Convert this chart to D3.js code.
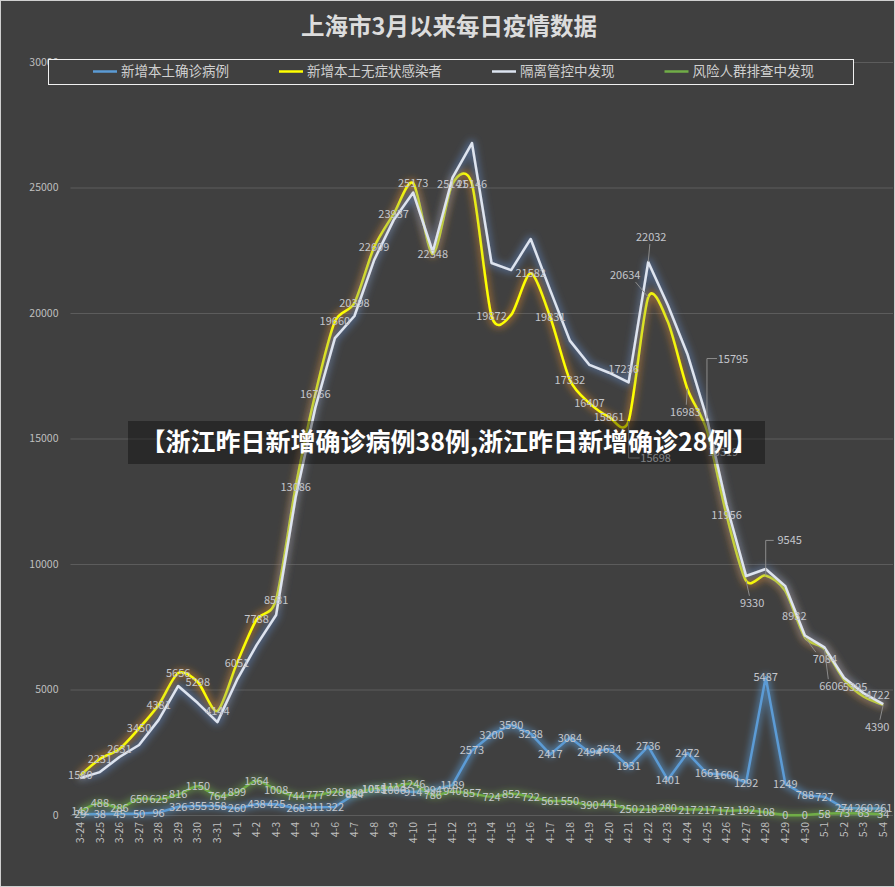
<!DOCTYPE html>
<html>
<head>
<meta charset="utf-8">
<script src="https://cdn.jsdelivr.net/npm/d3@7"></script>
<style>
  html, body { margin: 0; padding: 0; background: #404040; }
  svg { display: block; }
  text { font-family: "Microsoft YaHei", "Noto Sans CJK SC", sans-serif; }
</style>
</head>
<body>
<svg id="chart"></svg>
<script>
// dates on the x axis
var dates = ['3-24','3-25','3-26','3-27','3-28','3-29','3-30','3-31',
  '4-1','4-2','4-3','4-4','4-5','4-6','4-7','4-8','4-9','4-10',
  '4-11','4-12','4-13','4-14','4-15','4-16','4-17','4-18','4-19','4-20',
  '4-21','4-22','4-23','4-24','4-25','4-26','4-27','4-28','4-29','4-30',
  '5-1','5-2','5-3','5-4'];

// 新增本土确诊病例
var confirmed = [29,38,45,50,96,326,355,358,
  260,438,425,268,311,322,824,1015,1006,914,
  994,1189,2573,3200,3590,3238,2417,3084,2494,2634,
  1931,2736,1401,2472,1661,1606,1292,5487,1249,788,
  727,274,260,261];

// 新增本土无症状感染者
var asymptomatic = [1580,2231,2631,3450,4381,5656,5298,4144,
  6051,7788,8581,13086,16766,19660,20398,22609,23937,25173,
  22348,25141,25146,19872,19923,21582,19831,17332,16407,15861,
  15698,20634,19657,16983,15319,11956,9330,9545,8932,7084,
  6606,5395,4722,4390];

// 隔离管控中发现
var quarantine = [1470,1710,2310,2790,3790,5140,4460,3700,
  5380,6770,7970,12670,16220,19000,19880,22100,23700,24800,
  22430,25380,26770,21990,21710,22950,20900,18900,17930,17620,
  17236,22032,20320,18370,15795,12350,9520,9800,9120,7150,
  6680,5470,4850,4420];

// 风险人群排查中发现
var screening = [142,488,286,650,625,816,1150,764,
  899,1364,1008,744,777,928,880,1051,1113,1246,
  786,940,857,724,852,722,561,550,390,441,
  250,218,280,217,217,171,192,108,0,0,
  58,73,63,34];

var yTicks = [0, 5000, 10000, 15000, 20000, 25000, 30000];

var W = 895, H = 887;
var margin = { top: 62, right: 2, bottom: 72, left: 70.5 };

var svg = d3.select('#chart').attr('width', W).attr('height', H);

svg.append('rect').attr('x', 0.5).attr('y', 0.5)
  .attr('width', W - 1).attr('height', H - 1)
  .attr('fill', '#404040').attr('stroke', '#d0d0d0');

var x = d3.scaleBand().domain(dates).range([margin.left, W - margin.right]);
var y = d3.scaleLinear().domain([0, 30000]).range([H - margin.bottom, margin.top]);
var cx = function(d, i) { return x(dates[i]) + x.bandwidth() / 2; };

// glow filters
var defs = svg.append('defs');
function glow(id, color, opacity, dil, blur) {
  var f = defs.append('filter').attr('id', id)
    .attr('filterUnits', 'userSpaceOnUse')
    .attr('x', 0).attr('y', 0).attr('width', W).attr('height', H);
  f.append('feMorphology').attr('in', 'SourceAlpha').attr('operator', 'dilate')
    .attr('radius', dil).attr('result', 'd');
  f.append('feGaussianBlur').attr('in', 'd').attr('stdDeviation', blur).attr('result', 'b');
  f.append('feFlood').attr('flood-color', color).attr('flood-opacity', opacity);
  f.append('feComposite').attr('in2', 'b').attr('operator', 'in').attr('result', 'g');
  var m = f.append('feMerge');
  m.append('feMergeNode').attr('in', 'g');
  m.append('feMergeNode').attr('in', 'SourceGraphic');
}
glow('glowBlue', '#5b9bd5', 0.55, 1.5, 3);
glow('glowYellow', '#c87f2a', 0.6, 1.5, 3.5);
glow('glowWhite', '#5a78a8', 0.65, 1.5, 3.5);
glow('glowGreen', '#70ad47', 0.5, 1.5, 3);

// title
svg.append('text')
  .attr('x', 449).attr('y', 35)
  .attr('text-anchor', 'middle')
  .attr('fill', '#dcdcdc')
  .style('font-size', '23.5px')
  .style('font-weight', 'bold')
  .text('上海市3月以来每日疫情数据');

// gridlines + y axis
var yAxis = svg.append('g')
  .attr('transform', 'translate(' + margin.left + ',0)')
  .call(d3.axisLeft(y).tickValues(yTicks).tickFormat(d3.format('d'))
    .tickSize(-(W - margin.right - margin.left)).tickPadding(12));
yAxis.select('.domain').remove();
yAxis.selectAll('.tick line').attr('stroke', '#5c5c5c');
yAxis.selectAll('.tick text').attr('fill', '#bfbfbf')
  .style('font-size', '10.5px')
  .style('font-family', '"Microsoft YaHei", "Noto Sans CJK SC", sans-serif');

// x axis labels (vertical)
var xAxis = svg.append('g')
  .attr('transform', 'translate(0,' + (H - margin.bottom) + ')')
  .call(d3.axisBottom(x).tickSize(0).tickPadding(0));
xAxis.select('.domain').remove();
xAxis.selectAll('.tick text')
  .attr('fill', '#bfbfbf')
  .style('font-size', '10.5px')
  .style('font-family', '"Microsoft YaHei", "Noto Sans CJK SC", sans-serif')
  .attr('text-anchor', 'end')
  .attr('transform', 'translate(0,7) rotate(-90)')
  .attr('dx', 0).attr('dy', '0.35em').attr('x', 0).attr('y', 0);

// series
var series = [
  { name: '新增本土确诊病例', values: confirmed, color: '#5b9bd5', filter: 'glowBlue', curve: d3.curveLinear },
  { name: '新增本土无症状感染者', values: asymptomatic, color: '#ffff00', filter: 'glowYellow', curve: d3.curveCardinal.tension(0.2) },
  { name: '隔离管控中发现', values: quarantine, color: '#dde4f0', filter: 'glowWhite', curve: d3.curveLinear },
  { name: '风险人群排查中发现', values: screening, color: '#70ad47', filter: 'glowGreen', curve: d3.curveCardinal.tension(0.2) }
];

series.forEach(function(s) {
  var line = d3.line()
    .x(function(d, i) { return cx(d, i); })
    .y(function(d) { return y(d); })
    .curve(s.curve);
  svg.append('path')
    .datum(s.values)
    .attr('d', line)
    .attr('fill', 'none')
    .attr('stroke', s.color)
    .attr('stroke-width', 2.5)
    .attr('stroke-linejoin', 'round')
    .attr('filter', 'url(#' + s.filter + ')');
});

// data labels: label nudges (dx, dy, leader) per point index; null hides a label
var labelNudge = {
  asymptomatic: {
    22: null, 30: null,
    28: [27, 37, 'L'], 29: [-23, -22, 'line'], 31: [-2, 23, 'line'], 32: [16, 22],
    34: [6, 22, 'line'], 35: [24, -35, 'L'], 36: [9, 25], 37: [20, 22, 'line'],
    38: [7, 37, 'line'], 39: [11, 7], 40: [14, -1], 41: [-6, 22, 'line']
  },
  quarantine: { 28: [-5, -13], 29: [3, -25, 'line'], 32: [26, -60, 'L'] }
};

var labelLayer = svg.append('g')
  .style('font-size', '11px')
  .attr('fill', '#c4c6cc')
  .attr('text-anchor', 'middle');

function addLabels(values, nudges, onlyListed) {
  values.forEach(function(v, i) {
    var n = nudges ? nudges[i] : undefined;
    if (n === null) return;
    if (onlyListed && !n) return;
    var px = cx(v, i), py = y(v);
    var dx = n ? n[0] : 0, dy = n ? n[1] : 0;
    var lx = px + dx, ly = py + dy;
    if (n && n[2] === 'line') {
      labelLayer.append('line')
        .attr('x1', px).attr('y1', py)
        .attr('x2', lx - dx * 0.45).attr('y2', ly - (dy > 0 ? 7 : -7))
        .attr('stroke', '#8c8c8c').attr('stroke-width', 1);
    }
    if (n && n[2] === 'L') {
      labelLayer.append('path')
        .attr('d', 'M' + px + ',' + py + 'V' + ly + 'H' + (lx - 16))
        .attr('fill', 'none').attr('stroke', '#8c8c8c').attr('stroke-width', 1);
    }
    labelLayer.append('text')
      .attr('x', lx).attr('y', ly)
      .attr('dy', '0.36em')
      .text(v);
  });
}
addLabels(confirmed, null, false);
addLabels(screening, null, false);
addLabels(asymptomatic, labelNudge.asymptomatic, false);
addLabels(quarantine, labelNudge.quarantine, true);

// legend
var legend = svg.append('g');
legend.append('rect')
  .attr('x', 48.5).attr('y', 59.5).attr('width', 805).attr('height', 25)
  .attr('fill', '#404040').attr('stroke', '#f0f0f0').attr('stroke-width', 1);
var lx = 93;
series.forEach(function(s) {
  legend.append('line')
    .attr('x1', lx).attr('x2', lx + 24).attr('y1', 71.5).attr('y2', 71.5)
    .attr('stroke', s.color).attr('stroke-width', 2.5);
  var t = legend.append('text')
    .attr('x', lx + 28).attr('y', 71.5).attr('dy', '0.36em')
    .attr('fill', '#d0d0d0')
    .style('font-size', '13.5px')
    .text(s.name);
  lx += 28 + t.node().getComputedTextLength() + 50;
});

// overlay banner
var banner = svg.append('g');
banner.append('rect')
  .attr('x', 128).attr('y', 421).attr('width', 637).attr('height', 43)
  .attr('fill', '#000').attr('fill-opacity', 0.35);
banner.append('text')
  .attr('x', 449).attr('y', 442).attr('dy', '0.36em')
  .attr('text-anchor', 'middle')
  .attr('fill', '#ffffff')
  .style('font-size', '25px')
  .style('font-weight', 'bold')
  .text('【浙江昨日新增确诊病例38例,浙江昨日新增确诊28例】');
</script>
</body>
</html>
